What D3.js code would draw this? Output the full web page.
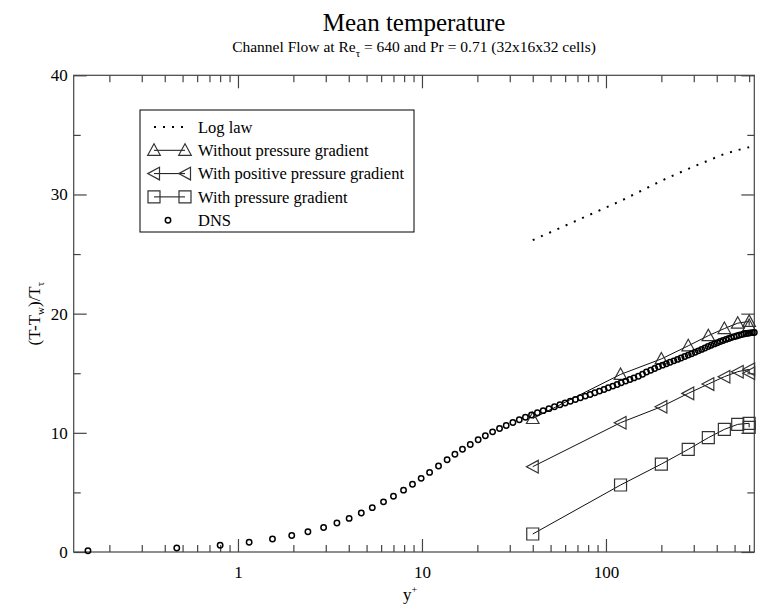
<!DOCTYPE html>
<html>
<head>
<meta charset="utf-8">
<script src="https://cdn.jsdelivr.net/npm/d3@7"></script>
<style>
  body { margin: 0; background: #fff; }
  svg { display: block; font-family: "Liberation Serif", "Times New Roman", serif; }
</style>
</head>
<body>
<div id="chart"></div>
<script>
// DNS reference profile
const yPlusDNS = [0.153, 0.465, 0.80, 1.15, 1.54, 1.96, 2.40, 2.92, 3.45, 4.02, 4.68, 5.37,
  6.18, 7.0, 7.94, 8.88, 9.9, 11.0, 12.3, 13.7, 15.1, 16.6, 18.3, 20.2, 22.1, 24.2, 26.4,
  28.7, 31.2, 33.8, 36.5, 39.4, 42.4, 45.6, 49.0, 52.5, 56.2, 60.0, 64.0, 68.2, 72.6, 77.2,
  82.0, 87.0, 92.2, 97.6, 103, 109, 115, 121, 128, 135, 142, 150, 158, 166, 175, 184, 193,
  203, 213, 223, 234, 245, 256, 268, 280, 292, 305, 318, 331, 345, 359, 373, 388, 403, 418,
  433, 449, 465, 481, 497, 513, 529, 545, 561, 577, 593, 609, 625, 640];
const tempDNS = [0.11, 0.33, 0.57, 0.82, 1.09, 1.39, 1.70, 2.06, 2.43, 2.82, 3.27, 3.72,
  4.21, 4.68, 5.19, 5.68, 6.18, 6.68, 7.22, 7.74, 8.20, 8.62, 9.02, 9.42, 9.76, 10.08, 10.36,
  10.62, 10.87, 11.10, 11.31, 11.50, 11.68, 11.86, 12.03, 12.19, 12.35, 12.50, 12.65, 12.80,
  12.94, 13.08, 13.22, 13.36, 13.50, 13.64, 13.78, 13.92, 14.06, 14.20, 14.34, 14.48, 14.61,
  14.75, 14.92, 15.10, 15.25, 15.40, 15.55, 15.68, 15.80, 15.92, 16.04, 16.16, 16.28, 16.40,
  16.52, 16.64, 16.76, 16.88, 17.00, 17.12, 17.24, 17.35, 17.46, 17.56, 17.66, 17.75, 17.84,
  17.92, 18.00, 18.07, 18.13, 18.19, 18.24, 18.29, 18.33, 18.36, 18.39, 18.41, 18.42];

// LES cell centres (last point is the other half of the channel)
const yPlusLES = [40, 120, 200, 280, 360, 440, 520, 600, 600];
const tempLogLaw = [26.17, 29.45, 31.15, 32.15, 32.85, 33.4, 33.72, 33.97];
const tempNoGradient = [11.2, 14.9, 16.2, 17.3, 18.15, 18.75, 19.2, 19.35, 19.0];
const tempPositiveGradient = [7.16, 10.85, 12.19, 13.31, 14.09, 14.71, 15.13, 15.33, 15.0];
const tempWithGradient = [1.51, 5.62, 7.38, 8.61, 9.59, 10.29, 10.71, 10.8, 10.46];

const legendLabels = ["Log law", "Without pressure gradient", "With positive pressure gradient",
  "With pressure gradient", "DNS"];

const xMajorTicks = [1, 10, 100];
const yMajorTicks = [0, 10, 20, 30, 40];
const yMinorTicks = [5, 15, 25, 35];

let margin = {top: 75.3, right: 4.7, bottom: 53, left: 73.7};
let width = 759 - margin.left - margin.right;
let height = 605 - margin.top - margin.bottom;
const axisColor = "#444";

const svg = d3.select("#chart").append("svg")
  .attr("width", 759)
  .attr("height", 605);

const g = svg.append("g")
  .attr("transform", `translate(${margin.left},${margin.top})`);

const x = d3.scaleLog()
  .domain([0.128, 640])
  .range([0, width]);

const y = d3.scaleLinear()
  .domain([0, 40])
  .range([height, 0]);

const xMinorTicks = x.ticks().filter(d => xMajorTicks.indexOf(d) < 0);

// axes: ticks point inward on all four sides
const tickAxis = (axis, values, size, labels, pad) => axis
  .tickValues(values)
  .tickSize(-size)
  .tickPadding(pad || 0)
  .tickFormat(labels ? d3.format("d") : "");

const styleAxis = sel => sel
  .call(s => s.select(".domain").remove())
  .call(s => s.selectAll("line").attr("stroke", axisColor).attr("stroke-width", 1.2))
  .call(s => s.selectAll("text").attr("fill", "#000").attr("font-size", 17)
    .attr("font-family", "Liberation Serif"));

g.append("g").attr("transform", `translate(0,${height})`)
  .call(tickAxis(d3.axisBottom(x), xMajorTicks, 13, true, 14)).call(styleAxis);
g.append("g").attr("transform", `translate(0,${height})`)
  .call(tickAxis(d3.axisBottom(x), xMinorTicks, 7)).call(styleAxis);
g.append("g")
  .call(tickAxis(d3.axisTop(x), xMajorTicks, 13)).call(styleAxis);
g.append("g")
  .call(tickAxis(d3.axisTop(x), xMinorTicks, 7)).call(styleAxis);

g.append("g")
  .call(tickAxis(d3.axisLeft(y), yMajorTicks, 13, true, 6)).call(styleAxis);
g.append("g")
  .call(tickAxis(d3.axisLeft(y), yMinorTicks, 7)).call(styleAxis);
g.append("g").attr("transform", `translate(${width},0)`)
  .call(tickAxis(d3.axisRight(y), yMajorTicks, 13)).call(styleAxis);
g.append("g").attr("transform", `translate(${width},0)`)
  .call(tickAxis(d3.axisRight(y), yMinorTicks, 7)).call(styleAxis);

g.append("rect")
  .attr("width", width)
  .attr("height", height)
  .attr("fill", "none")
  .attr("stroke", axisColor)
  .attr("stroke-width", 1.2);

// marker shapes
const markers = {
  up: "M0,-6.5L6.3,5L-6.3,5Z",
  left: "M-6.3,0L5.5,-6.3L5.5,6.3Z",
  square: "M-6,-6H6V6H-6Z"
};

const series = [
  {label: legendLabels[1], xs: yPlusLES, ys: tempNoGradient, marker: markers.up},
  {label: legendLabels[2], xs: yPlusLES, ys: tempPositiveGradient, marker: markers.left},
  {label: legendLabels[3], xs: yPlusLES, ys: tempWithGradient, marker: markers.square}
];

const line = d3.line()
  .x(d => x(d[0]))
  .y(d => y(d[1]));

const plot = g.append("g");

// log law, dotted
plot.append("path")
  .datum(tempLogLaw.map((t, i) => [yPlusLES[i], t]))
  .attr("d", line)
  .attr("fill", "none")
  .attr("stroke", "#000")
  .attr("stroke-width", 2)
  .attr("stroke-dasharray", "2,7");

series.forEach(s => {
  const pts = s.ys.map((t, i) => [s.xs[i], t]);
  plot.append("path")
    .datum(pts)
    .attr("d", line)
    .attr("fill", "none")
    .attr("stroke", "#111")
    .attr("stroke-width", 1);
  plot.append("g")
    .selectAll("path")
    .data(pts)
    .join("path")
      .attr("transform", d => `translate(${x(d[0])},${y(d[1])})`)
      .attr("d", s.marker)
      .attr("fill", "none")
      .attr("stroke", "#333")
      .attr("stroke-width", 1.2);
});

plot.append("g")
  .selectAll("circle")
  .data(yPlusDNS.map((v, i) => [v, tempDNS[i]]))
  .join("circle")
    .attr("cx", d => x(d[0]))
    .attr("cy", d => y(d[1]))
    .attr("r", 2.7)
    .attr("fill", "none")
    .attr("stroke", "#000")
    .attr("stroke-width", 1.5);

// legend
const legend = svg.append("g").attr("transform", "translate(140,110)");
legend.append("rect")
  .attr("width", 274)
  .attr("height", 122)
  .attr("fill", "#fff")
  .attr("stroke", "#000")
  .attr("stroke-width", 1);

const rowH = 23.3;
const row = i => 17 + i * rowH;

legend.append("line")
  .attr("x1", 14).attr("x2", 48)
  .attr("y1", row(0)).attr("y2", row(0))
  .attr("stroke", "#000")
  .attr("stroke-width", 2)
  .attr("stroke-dasharray", "2,7");

series.forEach((s, i) => {
  const ry = row(i + 1);
  legend.append("line")
    .attr("x1", 14).attr("x2", 45)
    .attr("y1", ry).attr("y2", ry)
    .attr("stroke", "#111");
  legend.selectAll(null)
    .data([14, 45])
    .join("path")
      .attr("transform", d => `translate(${d},${ry})`)
      .attr("d", s.marker)
      .attr("fill", "none")
      .attr("stroke", "#333")
      .attr("stroke-width", 1.2);
});

legend.append("circle")
  .attr("cx", 28).attr("cy", row(4))
  .attr("r", 2.7)
  .attr("fill", "none")
  .attr("stroke", "#000")
  .attr("stroke-width", 1.5);

legend.selectAll("text")
  .data(legendLabels)
  .join("text")
    .attr("x", 58)
    .attr("y", (d, i) => row(i))
    .attr("dy", "0.35em")
    .attr("font-size", 16.5)
    .text(d => d);

// titles
const cx = margin.left + width / 2;
svg.append("text")
  .attr("x", cx).attr("y", 31)
  .attr("text-anchor", "middle")
  .attr("font-size", 25)
  .text("Mean temperature");

const sub = svg.append("text")
  .attr("x", cx).attr("y", 52)
  .attr("text-anchor", "middle")
  .attr("font-size", 15.5);
sub.append("tspan").text("Channel Flow at Re");
sub.append("tspan").attr("dy", 5).attr("font-size", 11).text("τ");
sub.append("tspan").attr("dy", -5).text(" = 640 and Pr = 0.71 (32x16x32 cells)");

const xl = svg.append("text")
  .attr("x", cx - 4).attr("y", 600)
  .attr("text-anchor", "middle")
  .attr("font-size", 17);
xl.append("tspan").text("y");
xl.append("tspan").attr("dy", -7).attr("font-size", 10).text("+");

const yl = svg.append("text")
  .attr("transform", `translate(40,${margin.top + height / 2}) rotate(-90)`)
  .attr("text-anchor", "middle")
  .attr("font-size", 17);
yl.append("tspan").text("(T-T");
yl.append("tspan").attr("dy", 4).attr("font-size", 11).text("w");
yl.append("tspan").attr("dy", -4).text(")/T");
yl.append("tspan").attr("dy", 4).attr("font-size", 11).text("τ");
</script>
</body>
</html>
